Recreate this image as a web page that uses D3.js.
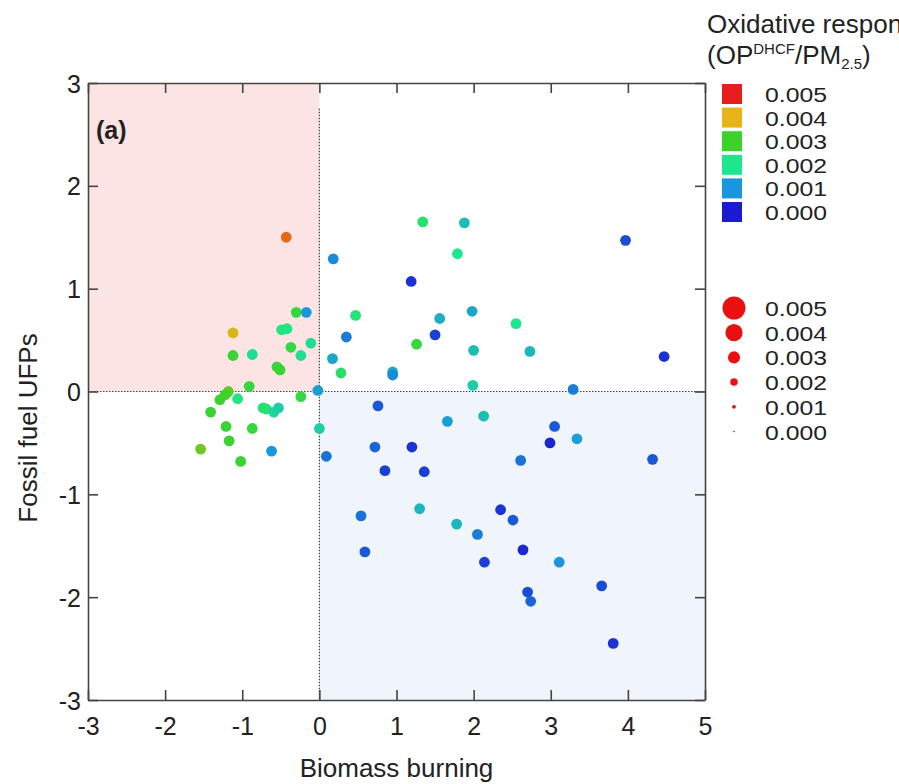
<!DOCTYPE html>
<html>
<head>
<meta charset="utf-8">
<script src="https://cdn.jsdelivr.net/npm/d3@7"></script>
<style>
  html, body { margin: 0; padding: 0; background: #fff; }
  svg { display: block; font-family: "Liberation Sans", Arial, sans-serif; }
</style>
</head>
<body>
<svg id="chart" width="899" height="784"></svg>
<script>
// Biomass burning factor score (x) for each sample
const biomass = [
  -0.43, -0.30, -0.17, -1.12, -0.49, -0.42, 0.35, -0.11, -0.37, -1.12,
  -0.87, -0.24, 0.17, -0.55, -0.51, 0.28, -0.91, -1.18, -1.22, -1.29,
  -1.06, -0.24, -0.02, -1.41, -0.73, -0.69, -0.59, -0.53, -1.21, -0.87,
  0.00, -1.17, -1.54, -0.62, -1.02, 0.09,
  1.34, 1.88, 1.79, 0.18, 1.19, 0.47, 1.56, 1.98, 2.55, 1.50,
  1.26, 2.00, 2.73, 0.95, 0.95, 1.99, 3.97, 4.47, 3.29,
  0.76, 1.66, 2.13, 0.72, 1.20, 0.85, 1.36, 2.61, 2.99, 3.05,
  3.34, 4.32, 0.54, 1.30, 1.78, 2.05, 2.35, 2.51, 2.64, 0.59,
  2.14, 3.11, 3.66, 2.70, 2.74, 3.81
];
// Fossil fuel UFP factor score (y) for each sample
const fossil = [
  1.50, 0.77, 0.77, 0.57, 0.60, 0.61, 0.53, 0.47, 0.43, 0.35,
  0.36, 0.35, 0.32, 0.24, 0.21, 0.18, 0.05, 0.00, -0.03, -0.08,
  -0.07, -0.05, 0.01, -0.20, -0.16, -0.17, -0.20, -0.16, -0.34, -0.36,
  -0.36, -0.48, -0.56, -0.58, -0.68, -0.63,
  1.65, 1.64, 1.34, 1.29, 1.07, 0.74, 0.71, 0.78, 0.66, 0.55,
  0.46, 0.40, 0.39, 0.19, 0.16, 0.06, 1.47, 0.34, 0.02,
  -0.14, -0.29, -0.24, -0.54, -0.54, -0.77, -0.78, -0.67, -0.50, -0.34,
  -0.46, -0.66, -1.21, -1.14, -1.29, -1.39, -1.15, -1.25, -1.54, -1.56,
  -1.66, -1.66, -1.89, -1.95, -2.04, -2.45
];
// Oxidative response (OP_DHCF / PM2.5) for each sample
const response = [
  0.0045, 0.0028, 0.0010, 0.0039, 0.0021, 0.0021, 0.0008, 0.0019, 0.0027, 0.0029,
  0.0019, 0.0019, 0.0012, 0.0028, 0.0029, 0.0024, 0.0028, 0.0032, 0.0030, 0.0030,
  0.0021, 0.0027, 0.0011, 0.0029, 0.0022, 0.0023, 0.0018, 0.0017, 0.0029, 0.0028,
  0.0017, 0.0029, 0.0033, 0.0010, 0.0029, 0.0007,
  0.0023, 0.0015, 0.0020, 0.0009, 0.0002, 0.0022, 0.0013, 0.0012, 0.0020, 0.0003,
  0.0028, 0.0015, 0.0014, 0.0012, 0.0009, 0.0017, 0.0004, 0.0002, 0.0008,
  0.0005, 0.0011, 0.0015, 0.0006, 0.0002, 0.0003, 0.0003, 0.0007, 0.0001, 0.0005,
  0.0011, 0.0005, 0.0007, 0.0014, 0.0014, 0.0008, 0.0002, 0.0005, 0.0001, 0.0005,
  0.0003, 0.0010, 0.0004, 0.0004, 0.0006, 0.0002
];

const xTicks = [-3, -2, -1, 0, 1, 2, 3, 4, 5];
const yTicks = [-3, -2, -1, 0, 1, 2, 3];
const legendLevels = [0.005, 0.004, 0.003, 0.002, 0.001, 0.000];

const svg = d3.select("#chart");
const plotLeft = 88, plotRight = 705, plotTop = 83, plotBottom = 700;

const x = d3.scaleLinear().domain([-3, 5]).range([plotLeft, plotRight]);
const y = d3.scaleLinear().domain([-3, 3]).range([plotBottom, plotTop]);

const color = d3.scaleLinear()
  .domain([0, 0.001, 0.002, 0.003, 0.004, 0.005])
  .range(["#1a1ad0", "#1a96dc", "#1ee68c", "#3cd22a", "#e6b414", "#e61e1e"])
  .interpolate(d3.interpolateRgb)
  .clamp(true);

const size = d3.scalePow().exponent(1.4).domain([0, 0.005]).range([0.8, 11.5]);

// quadrant shading
svg.append("rect")
  .attr("x", x(-3)).attr("y", y(3))
  .attr("width", x(0) - x(-3)).attr("height", y(0) - y(3))
  .attr("fill", "#fde4e4");
svg.append("rect")
  .attr("x", x(0)).attr("y", y(0))
  .attr("width", x(5) - x(0)).attr("height", y(-3) - y(0))
  .attr("fill", "#f0f5fc");

// zero reference lines
svg.append("line")
  .attr("x1", x(-3)).attr("x2", x(5)).attr("y1", y(0)).attr("y2", y(0))
  .attr("stroke", "#444").attr("stroke-width", 1.2).attr("stroke-dasharray", "1.5,1.5");
svg.append("line")
  .attr("x1", x(0)).attr("x2", x(0)).attr("y1", y(2.75)).attr("y2", y(-3))
  .attr("stroke", "#444").attr("stroke-width", 1.2).attr("stroke-dasharray", "1.5,1.5");

// axes with inward ticks on all four sides
const tickLen = 10;
const fmt = d => d3.format("d")(d).replace("−", "-");
const axisBottom = svg.append("g").attr("transform", `translate(0,${plotBottom})`)
  .call(d3.axisBottom(x).tickValues(xTicks).tickSizeInner(-tickLen).tickSizeOuter(0).tickPadding(17).tickFormat(fmt));
const axisTop = svg.append("g").attr("transform", `translate(0,${plotTop})`)
  .call(d3.axisTop(x).tickValues(xTicks).tickSizeInner(-tickLen).tickSizeOuter(0).tickFormat(""));
const axisLeft = svg.append("g").attr("transform", `translate(${plotLeft},0)`)
  .call(d3.axisLeft(y).tickValues(yTicks).tickSizeInner(-tickLen).tickSizeOuter(0).tickPadding(7).tickFormat(fmt));
const axisRight = svg.append("g").attr("transform", `translate(${plotRight},0)`)
  .call(d3.axisRight(y).tickValues(yTicks).tickSizeInner(-tickLen).tickSizeOuter(0).tickFormat(""));

[axisBottom, axisTop, axisLeft, axisRight].forEach(g => {
  g.select(".domain").attr("stroke", "#444").attr("stroke-width", 1.6);
  g.selectAll(".tick line").attr("stroke", "#444").attr("stroke-width", 1.6);
  g.selectAll(".tick text").attr("fill", "#222").attr("font-size", 25)
    .attr("font-family", "Liberation Sans, Arial, sans-serif");
});
axisLeft.selectAll(".tick text").attr("dy", "0.36em");

// data points
svg.append("g").selectAll("circle")
  .data(biomass.map((b, i) => ({ b, f: fossil[i], r: response[i] })))
  .join("circle")
  .attr("cx", d => x(d.b))
  .attr("cy", d => y(d.f))
  .attr("r", 5.4)
  .attr("fill", d => color(d.r));

// panel tag
svg.append("text").attr("x", 96).attr("y", 139)
  .attr("font-size", 25).attr("font-weight", "bold").attr("fill", "#222")
  .text("(a)");

// axis titles
svg.append("text").attr("x", x(1)).attr("y", 777)
  .attr("text-anchor", "middle").attr("font-size", 26).attr("fill", "#222")
  .text("Biomass burning");
svg.append("text")
  .attr("transform", "translate(37,428) rotate(-90)")
  .attr("text-anchor", "middle").attr("font-size", 26).attr("fill", "#222")
  .text("Fossil fuel UFPs");

// legend title (runs past the right edge of the page)
const title = svg.append("g").attr("font-size", 26).attr("fill", "#222");
title.append("text").attr("x", 707).attr("y", 33).text("Oxidative response");
const t2 = title.append("text").attr("x", 707).attr("y", 64);
t2.append("tspan").text("(OP");
t2.append("tspan").attr("font-size", 15).attr("dy", -10).text("DHCF");
t2.append("tspan").attr("dy", 10).text("/PM");
t2.append("tspan").attr("font-size", 15).attr("dy", 5).text("2.5");
t2.append("tspan").attr("dy", -5).text(")");

// legend labels: compact line height, widened glyphs
const legendLabel = (g, v, cy) => g.append("text")
  .attr("x", 765).attr("y", cy + 8)
  .attr("font-size", 20.5).attr("fill", "#222")
  .attr("textLength", 62).attr("lengthAdjust", "spacingAndGlyphs")
  .text(d3.format(".3f")(v));

// colour legend
const cl = svg.append("g");
legendLevels.forEach((v, i) => {
  const cy = 94 + i * 23.6;
  cl.append("rect").attr("x", 722).attr("y", cy - 10).attr("width", 20).attr("height", 20)
    .attr("fill", color(v));
  legendLabel(cl, v, cy);
});

// size legend
const sl = svg.append("g");
legendLevels.forEach((v, i) => {
  const cy = 308 + i * 24.7;
  sl.append("circle").attr("cx", 734).attr("cy", cy).attr("r", size(v))
    .attr("fill", "#e81010");
  legendLabel(sl, v, cy);
});
</script>
</body>
</html>
